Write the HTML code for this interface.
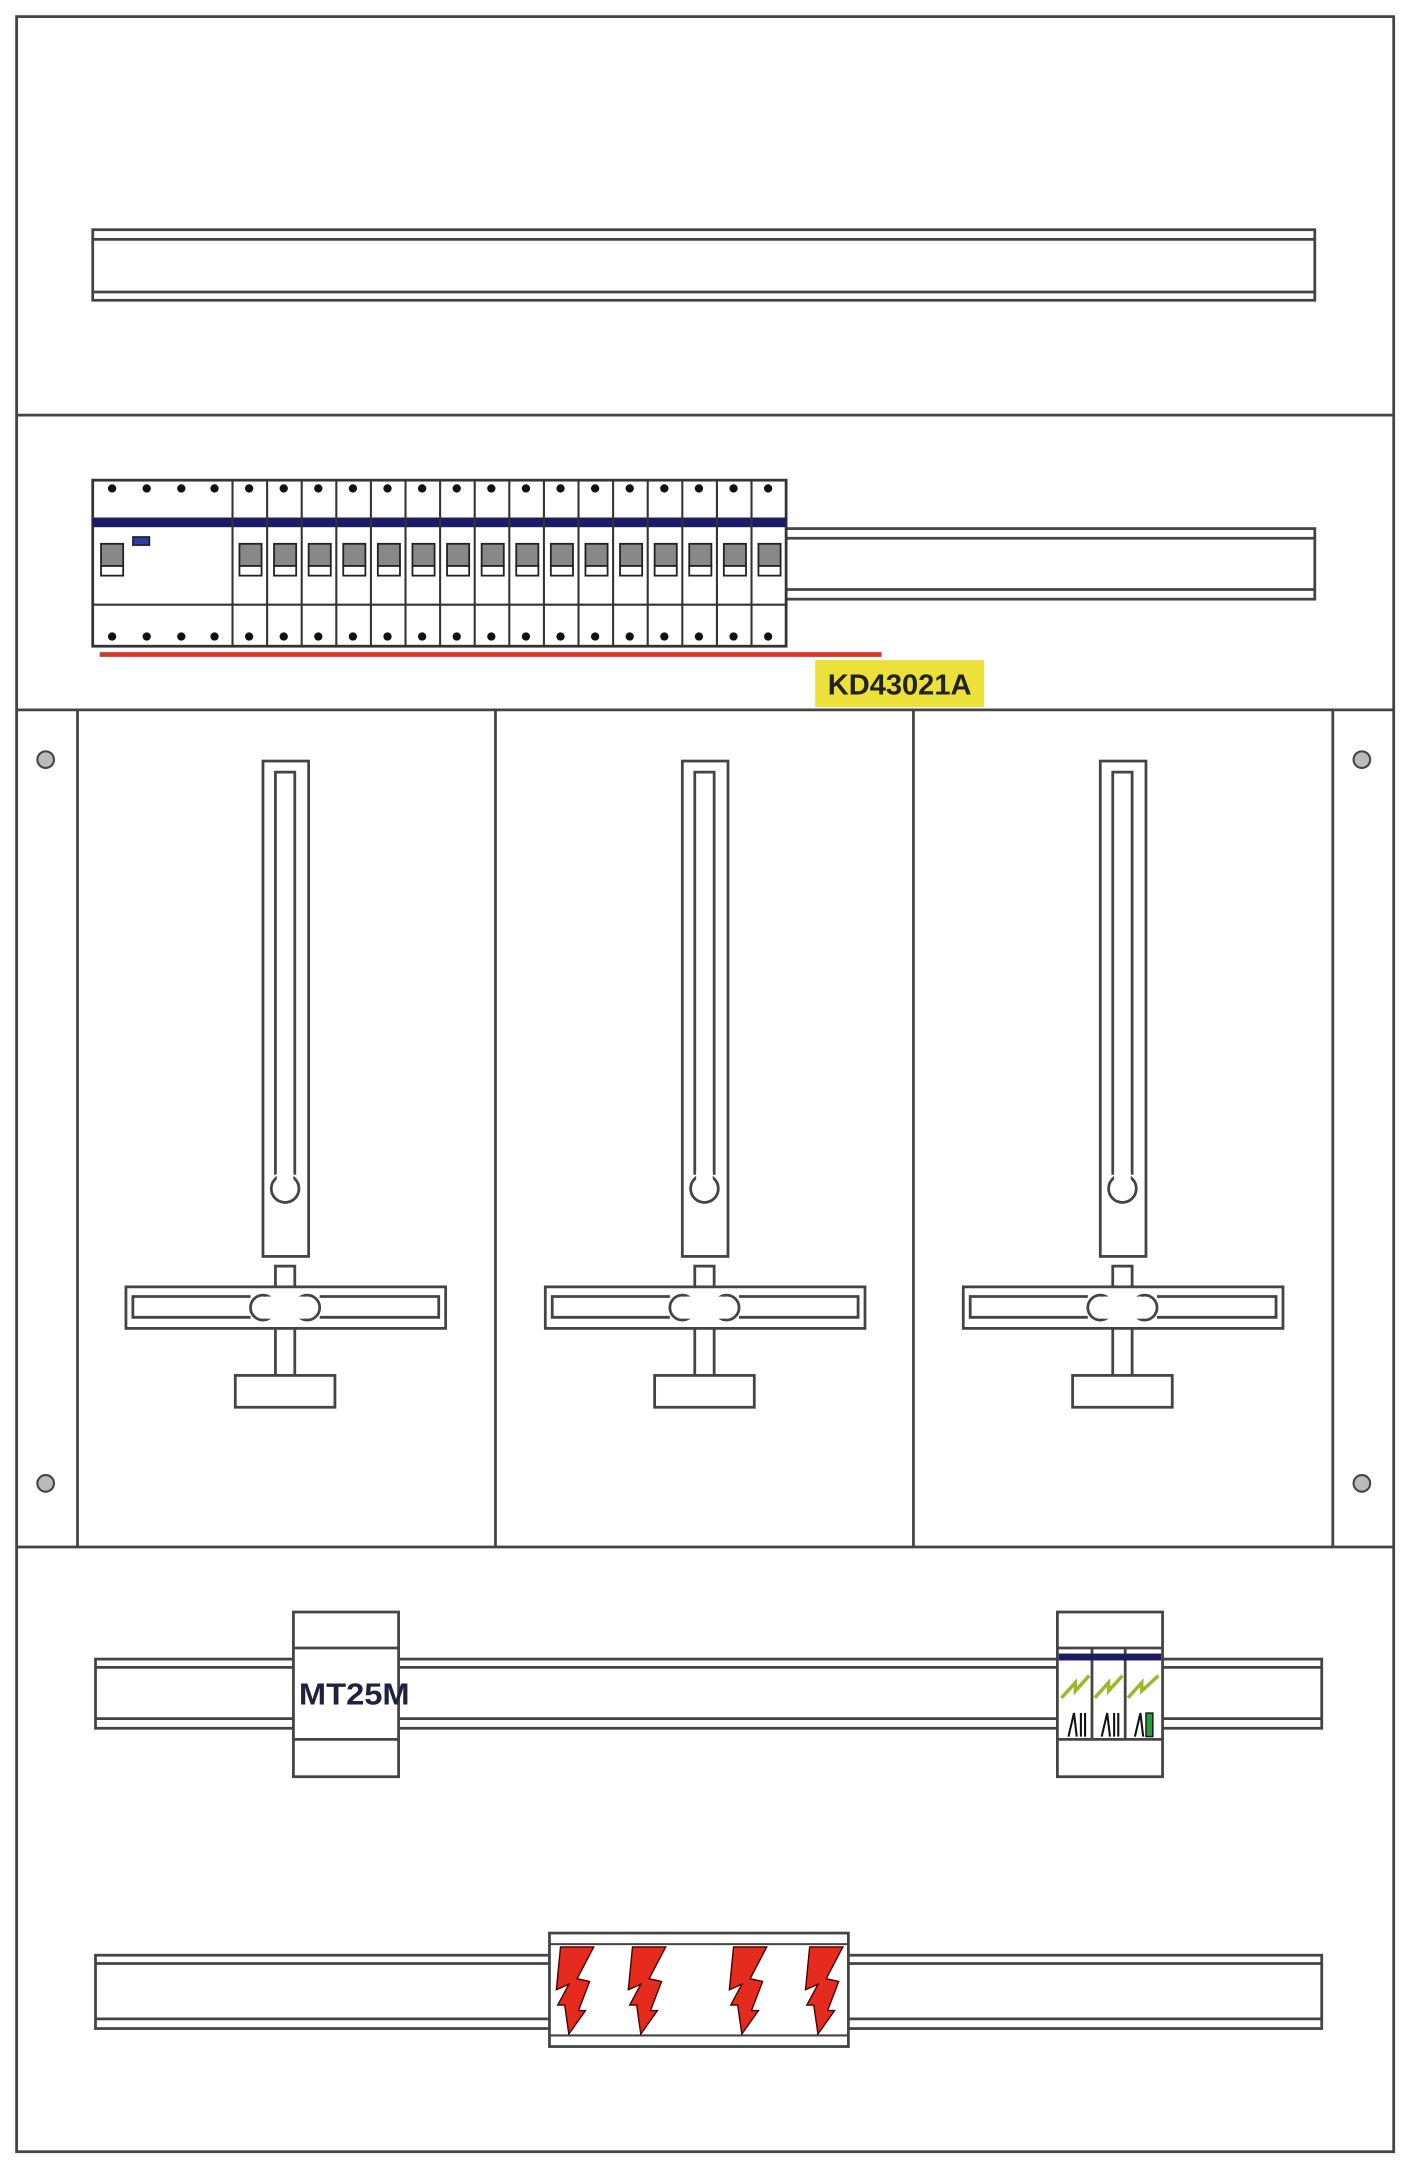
<!DOCTYPE html>
<html><head><meta charset="utf-8"><style>html,body{margin:0;padding:0;background:#fff}svg{display:block}</style></head>
<body>
<svg width="1402" height="2160" viewBox="0 0 1013 1561" preserveAspectRatio="none" xmlns="http://www.w3.org/2000/svg">
<defs>
<g id="bolt"><polygon points="3,0 27,0 15,23 24,25 16,46 21,46 9,63 6,42 1,42 9,27 0,31" fill="#e52a1e" stroke="#400" stroke-width="1"/></g>
<g id="meter" fill="none" stroke="#444" stroke-width="2">
  <rect x="190" y="550" width="33" height="358" fill="#fff"/>
  <path d="M199,849 L199,558 L213,558 L213,849" />
  <circle cx="206" cy="859" r="10" fill="#fff"/>
  <rect x="200" y="847" width="12" height="6" fill="#fff" stroke="none"/>
  <rect x="199" y="915" width="14" height="15"/>
  <rect x="91" y="930" width="231" height="30" fill="#fff"/>
  <path d="M181,937 L96,937 L96,952 L181,952 M231,937 L317,937 L317,952 L231,952"/>
  <circle cx="190" cy="945" r="9"/>
  <circle cx="222" cy="945" r="9"/>
  <rect x="192" y="937" width="28" height="16" fill="#fff" stroke="none"/>
  <path d="M199,960 L199,994 M213,960 L213,994"/>
  <rect x="170" y="994" width="72" height="23" fill="#fff"/>
</g>
</defs>
<g fill="none" stroke="#444" stroke-width="2">
  <rect x="12" y="12" width="995" height="1543"/>
  <line x1="12" y1="300" x2="1007" y2="300"/>
  <line x1="12" y1="513" x2="1007" y2="513"/>
  <line x1="12" y1="1118" x2="1007" y2="1118"/>
  <!-- top rail -->
  <rect x="67" y="166" width="883" height="51"/>
  <line x1="67" y1="173" x2="950" y2="173"/>
  <line x1="67" y1="211" x2="950" y2="211"/>
  <!-- section 2 rail -->
  <rect x="568" y="382" width="382" height="51"/>
  <line x1="568" y1="389" x2="950" y2="389"/>
  <line x1="568" y1="426" x2="950" y2="426"/>
  <!-- middle section strips -->
  <line x1="56" y1="513" x2="56" y2="1118"/>
  <line x1="358" y1="513" x2="358" y2="1118"/>
  <line x1="660" y1="513" x2="660" y2="1118"/>
  <line x1="963" y1="513" x2="963" y2="1118"/>
  <!-- rails bottom -->
  <rect x="69" y="1199" width="886" height="50"/>
  <line x1="69" y1="1205" x2="955" y2="1205"/>
  <line x1="69" y1="1242" x2="955" y2="1242"/>
  <rect x="69" y="1413" width="886" height="53"/>
  <line x1="69" y1="1419" x2="955" y2="1419"/>
  <line x1="69" y1="1459" x2="955" y2="1459"/>
</g>
<!-- screws -->
<g fill="#bbb" stroke="#444" stroke-width="1.5">
  <circle cx="33" cy="549" r="6"/><circle cx="33" cy="1072" r="6"/>
  <circle cx="984" cy="549" r="6"/><circle cx="984" cy="1072" r="6"/>
</g>
<!-- breakers -->
<g>
  <rect x="67" y="347" width="501" height="120" fill="#fff" stroke="#333" stroke-width="2"/>
  <rect x="67" y="374" width="501" height="7" fill="#1c1c66"/>
  <line x1="67" y1="437" x2="568" y2="437" stroke="#333" stroke-width="1.5"/>
  <g stroke="#333" stroke-width="1.5" id="divs">
    <line x1="168" y1="347" x2="168" y2="467"/><line x1="193" y1="347" x2="193" y2="467"/><line x1="218" y1="347" x2="218" y2="467"/><line x1="243" y1="347" x2="243" y2="467"/><line x1="268" y1="347" x2="268" y2="467"/><line x1="293" y1="347" x2="293" y2="467"/><line x1="318" y1="347" x2="318" y2="467"/><line x1="343" y1="347" x2="343" y2="467"/><line x1="368" y1="347" x2="368" y2="467"/><line x1="393" y1="347" x2="393" y2="467"/><line x1="418" y1="347" x2="418" y2="467"/><line x1="443" y1="347" x2="443" y2="467"/><line x1="468" y1="347" x2="468" y2="467"/><line x1="493" y1="347" x2="493" y2="467"/><line x1="518" y1="347" x2="518" y2="467"/><line x1="543" y1="347" x2="543" y2="467"/>
  </g>
  <g fill="#111">
    <circle cx="81" cy="353" r="3"/><circle cx="106" cy="353" r="3"/><circle cx="131" cy="353" r="3"/><circle cx="155" cy="353" r="3"/>
    <circle cx="81" cy="460" r="3"/><circle cx="106" cy="460" r="3"/><circle cx="131" cy="460" r="3"/><circle cx="155" cy="460" r="3"/>
    <circle cx="180" cy="353" r="3"/><circle cx="205" cy="353" r="3"/><circle cx="230" cy="353" r="3"/><circle cx="255" cy="353" r="3"/><circle cx="280" cy="353" r="3"/><circle cx="305" cy="353" r="3"/><circle cx="330" cy="353" r="3"/><circle cx="355" cy="353" r="3"/><circle cx="380" cy="353" r="3"/><circle cx="405" cy="353" r="3"/><circle cx="430" cy="353" r="3"/><circle cx="455" cy="353" r="3"/><circle cx="480" cy="353" r="3"/><circle cx="505" cy="353" r="3"/><circle cx="530" cy="353" r="3"/><circle cx="555" cy="353" r="3"/>
    <circle cx="180" cy="460" r="3"/><circle cx="205" cy="460" r="3"/><circle cx="230" cy="460" r="3"/><circle cx="255" cy="460" r="3"/><circle cx="280" cy="460" r="3"/><circle cx="305" cy="460" r="3"/><circle cx="330" cy="460" r="3"/><circle cx="355" cy="460" r="3"/><circle cx="380" cy="460" r="3"/><circle cx="405" cy="460" r="3"/><circle cx="430" cy="460" r="3"/><circle cx="455" cy="460" r="3"/><circle cx="480" cy="460" r="3"/><circle cx="505" cy="460" r="3"/><circle cx="530" cy="460" r="3"/><circle cx="555" cy="460" r="3"/>
  </g>
  <rect x="96" y="388" width="12" height="6" fill="#2a3fa0" stroke="#112" stroke-width="1"/>
  <g stroke="#222" stroke-width="1.3">
    <g fill="#888"><rect x="73" y="393" width="16" height="16"/><rect x="173" y="393" width="16" height="16"/><rect x="198" y="393" width="16" height="16"/><rect x="223" y="393" width="16" height="16"/><rect x="248" y="393" width="16" height="16"/><rect x="273" y="393" width="16" height="16"/><rect x="298" y="393" width="16" height="16"/><rect x="323" y="393" width="16" height="16"/><rect x="348" y="393" width="16" height="16"/><rect x="373" y="393" width="16" height="16"/><rect x="398" y="393" width="16" height="16"/><rect x="423" y="393" width="16" height="16"/><rect x="448" y="393" width="16" height="16"/><rect x="473" y="393" width="16" height="16"/><rect x="498" y="393" width="16" height="16"/><rect x="523" y="393" width="16" height="16"/><rect x="548" y="393" width="16" height="16"/></g>
    <g fill="#fff"><rect x="73" y="409" width="16" height="7"/><rect x="173" y="409" width="16" height="7"/><rect x="198" y="409" width="16" height="7"/><rect x="223" y="409" width="16" height="7"/><rect x="248" y="409" width="16" height="7"/><rect x="273" y="409" width="16" height="7"/><rect x="298" y="409" width="16" height="7"/><rect x="323" y="409" width="16" height="7"/><rect x="348" y="409" width="16" height="7"/><rect x="373" y="409" width="16" height="7"/><rect x="398" y="409" width="16" height="7"/><rect x="423" y="409" width="16" height="7"/><rect x="448" y="409" width="16" height="7"/><rect x="473" y="409" width="16" height="7"/><rect x="498" y="409" width="16" height="7"/><rect x="523" y="409" width="16" height="7"/><rect x="548" y="409" width="16" height="7"/></g>
  </g>
  <line x1="72" y1="473" x2="637" y2="473" stroke="#d33a2a" stroke-width="3.5"/>
  <rect x="589" y="477" width="122" height="34" fill="#ece13a"/>
  <text x="650" y="502" text-anchor="middle" font-family="Liberation Sans, sans-serif" font-weight="bold" font-size="21" fill="#222">KD43021A</text>
</g>
<!-- meters -->
<use href="#meter"/>
<use href="#meter" x="303"/>
<use href="#meter" x="605"/>
<!-- MT25M -->
<g stroke="#444" stroke-width="2" fill="#fff">
  <rect x="212" y="1165" width="76" height="119"/>
  <line x1="212" y1="1191" x2="288" y2="1191"/>
  <line x1="212" y1="1257" x2="288" y2="1257"/>
</g>
<text x="256" y="1232" text-anchor="middle" font-family="Liberation Sans, sans-serif" font-weight="bold" font-size="22" fill="#1e2240" textLength="80" lengthAdjust="spacingAndGlyphs">MT25M</text>
<!-- SPD -->
<g stroke="#444" stroke-width="2" fill="#fff">
  <rect x="764" y="1165" width="76" height="119"/>
  <line x1="764" y1="1191" x2="840" y2="1191"/>
  <line x1="764" y1="1257" x2="840" y2="1257"/>
  <line x1="789" y1="1191" x2="789" y2="1257"/>
  <line x1="813" y1="1191" x2="813" y2="1257"/>
</g>
<rect x="765" y="1195" width="74" height="5" fill="#1c1c66"/>
<g stroke="#9ab82a" stroke-width="2.5" fill="none">
  <path d="M767,1227 L777,1216 L777,1222 L787,1211"/>
  <path d="M791,1227 L801,1216 L801,1222 L811,1211"/>
  <path d="M815,1227 L825,1216 L825,1222 L837,1211"/>
</g>
<g stroke="#111" stroke-width="1.5" fill="none">
  <path d="M772,1255 L776,1238 L778,1255 M781,1238 L781,1255 M784,1238 L784,1255"/>
  <path d="M796,1255 L800,1238 L802,1255 M805,1238 L805,1255 M808,1238 L808,1255"/>
  <path d="M820,1255 L824,1238 L826,1255"/>
</g>
<rect x="828" y="1238" width="5" height="17" fill="#2a9a3a" stroke="#111" stroke-width="1"/>
<!-- lightning block -->
<g stroke="#444" stroke-width="2" fill="#fff">
  <rect x="397" y="1397" width="216" height="82"/>
</g>
<g stroke="#444" stroke-width="1.5">
  <line x1="397" y1="1405" x2="613" y2="1405"/>
  <line x1="397" y1="1471" x2="613" y2="1471"/>
</g>
<use href="#bolt" x="402" y="1407"/>
<use href="#bolt" x="454" y="1407"/>
<use href="#bolt" x="527" y="1407"/>
<use href="#bolt" x="582" y="1407"/>
</svg>
</body></html>
